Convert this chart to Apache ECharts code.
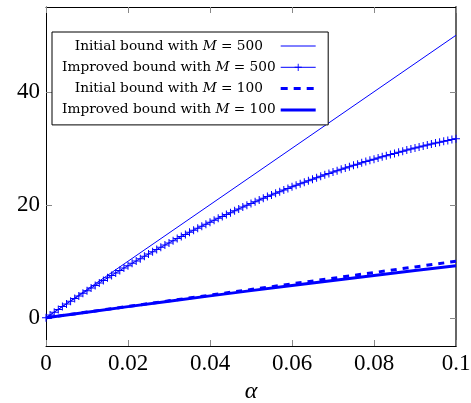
<!DOCTYPE html>
<html>
<head>
<meta charset="utf-8">
<script src="https://cdn.jsdelivr.net/npm/echarts@6/dist/echarts.min.js"></script>
<style>
  html, body { margin: 0; padding: 0; background: #fff; }
  #main { width: 471px; height: 403px; }
</style>
</head>
<body>
<div id="main"></div>
<script>
// alpha grid for the improved M=500 curve (marker every 0.001)
const alphaFine = [];
for (let k = 0; k <= 100; k++) alphaFine.push(k / 1000);

const improved500 = [
  0, 0.50, 0.99, 1.48, 1.97, 2.45, 2.93, 3.40, 3.87, 4.34,
  4.80, 5.26, 5.71, 6.17, 6.61, 7.06, 7.50, 7.93, 8.36, 8.79,
  9.21, 9.63, 10.05, 10.46, 10.87, 11.28, 11.68, 12.08, 12.47, 12.86,
  13.25, 13.63, 14.01, 14.38, 14.75, 15.12, 15.49, 15.85, 16.21, 16.56,
  16.91, 17.26, 17.60, 17.94, 18.27, 18.60, 18.93, 19.26, 19.58, 19.90,
  20.21, 20.52, 20.83, 21.14, 21.44, 21.73, 22.03, 22.32, 22.60, 22.89,
  23.17, 23.44, 23.72, 23.99, 24.25, 24.52, 24.78, 25.03, 25.29, 25.54,
  25.78, 26.03, 26.27, 26.50, 26.74, 26.97, 27.19, 27.42, 27.64, 27.86,
  28.07, 28.28, 28.49, 28.69, 28.90, 29.09, 29.29, 29.48, 29.67, 29.86,
  30.04, 30.22, 30.40, 30.57, 30.74, 30.91, 31.07, 31.23, 31.39, 31.55,
  31.70
];

const alphaCoarse = [0, 0.01, 0.02, 0.03, 0.04, 0.05, 0.06, 0.07, 0.08, 0.09, 0.1];
const initial500 = [0, 5, 10, 15, 20, 25, 30, 35, 40, 45, 50];
const initial100 = [0, 1, 2, 3, 4, 5, 6, 7, 8, 9, 10];
const improved100 = [0, 0.99, 1.97, 2.93, 3.87, 4.80, 5.71, 6.61, 7.49, 8.35, 9.20];

const yTicks = [0, 20, 40];
const seriesNames = [
  ['Initial bound with ', 'M', ' = 500'],
  ['Improved bound with ', 'M', ' = 500'],
  ['Initial bound with ', 'M', ' = 100'],
  ['Improved bound with ', 'M', ' = 100']
];

const zip = (xs, ys) => xs.map((x, i) => [x, ys[i]]);
const blue = '#0000ff';
const serif = "'Liberation Serif', 'Times New Roman', serif";
const legendFont = "'DejaVu Serif', serif";
const legendSize = 13.7;
const plus = 'path://M0,3.5h8v1h-8z M3.5,0h1v8h-1z';

// line looks for each series, shared by the plot and the legend icons
const lineWidths = [1, 1, 3, 3];
const legendDash = [null, null, [7, 6], null];

// measure legend lines so they can be centred (legend right-aligns text)
const ctx = document.createElement('canvas').getContext('2d');
const measure = (parts) => {
  ctx.font = legendSize + 'px ' + legendFont;
  let w = ctx.measureText(parts[0]).width + ctx.measureText(parts[2]).width;
  ctx.font = 'italic ' + legendSize + 'px ' + legendFont;
  return w + ctx.measureText(parts[1]).width;
};
const widths = seriesNames.map(measure);
const maxW = Math.max(...widths);
const rich = {
  a: { fontFamily: legendFont, fontSize: legendSize, color: '#000', lineHeight: 14 },
  m: { fontFamily: legendFont, fontStyle: 'italic', fontSize: legendSize, color: '#000', lineHeight: 14 }
};
widths.forEach((w, i) => { rich['p' + i] = { width: Math.max(0, (maxW - w) / 2), lineHeight: 14 }; });

const chart = echarts.init(document.getElementById('main'));

const tickStyle = { show: true, inside: true, length: 6, lineStyle: { color: '#888', width: 1 } };
const axisLineBlack = { show: true, onZero: false, lineStyle: { color: '#000', width: 1 } };

chart.setOption({
  animation: false,
  grid: { left: 46, right: 15, top: 7, bottom: 57, outerBoundsMode: 'none', containLabel: false },
  legend: {
    orient: 'vertical',
    left: 52,
    top: 32,
    align: 'right',
    padding: [7, 11, 8, 10],
    itemGap: 7.3,
    itemWidth: 35,
    itemHeight: 9,
    borderColor: '#000',
    borderWidth: 1,
    backgroundColor: '#fff',
    data: seriesNames.map((n, i) => {
      const item = {
        name: n.join(''),
        lineStyle: { width: lineWidths[i], color: blue }
      };
      if (legendDash[i]) item.lineStyle.type = legendDash[i];
      if (i !== 1) item.itemStyle = { opacity: 0 };
      return item;
    }),
    formatter: (name) => {
      const i = seriesNames.findIndex((n) => n.join('') === name);
      const p = seriesNames[i];
      return '{a|' + p[0] + '}{m|' + p[1] + '}{a|' + p[2] + '}{p' + i + '|}';
    },
    textStyle: { rich: rich }
  },
  xAxis: [
    {
      type: 'value', min: 0, max: 0.1, interval: 0.02,
      name: 'α', nameLocation: 'middle', nameGap: 20,
      nameTextStyle: { fontFamily: serif, fontStyle: 'italic', fontSize: 24, color: '#000' },
      axisLine: axisLineBlack, axisTick: tickStyle, splitLine: { show: false },
      axisLabel: { fontFamily: serif, fontSize: 23, color: '#000', margin: 6 }
    },
    {
      type: 'value', position: 'top', min: 0, max: 0.1, interval: 0.02,
      axisLine: axisLineBlack, axisTick: tickStyle, splitLine: { show: false },
      axisLabel: { show: false }
    }
  ],
  yAxis: [
    {
      type: 'value', min: -5, max: 55,
      axisLine: axisLineBlack,
      axisTick: Object.assign({ customValues: yTicks }, tickStyle),
      splitLine: { show: false },
      axisLabel: { customValues: yTicks, fontFamily: serif, fontSize: 23, color: '#000', margin: 6 }
    },
    {
      type: 'value', position: 'right', min: -5, max: 55,
      axisLine: { show: true, onZero: false, lineStyle: { color: '#666', width: 2 } },
      axisTick: Object.assign({ customValues: yTicks }, tickStyle),
      splitLine: { show: false },
      axisLabel: { show: false }
    }
  ],
  series: [
    {
      name: seriesNames[0].join(''), type: 'line', data: zip(alphaCoarse, initial500),
      symbol: 'none', lineStyle: { color: blue, width: lineWidths[0] }, itemStyle: { color: blue }
    },
    {
      name: seriesNames[1].join(''), type: 'line', data: zip(alphaFine, improved500),
      symbol: plus, symbolSize: 8, showAllSymbol: true,
      lineStyle: { color: blue, width: lineWidths[1] }, itemStyle: { color: blue }
    },
    {
      name: seriesNames[2].join(''), type: 'line', data: zip(alphaCoarse, initial100),
      symbol: 'none', lineStyle: { color: blue, width: lineWidths[2], type: [6, 6] }, itemStyle: { color: blue }
    },
    {
      name: seriesNames[3].join(''), type: 'line', data: zip(alphaCoarse, improved100),
      symbol: 'none', lineStyle: { color: blue, width: lineWidths[3] }, itemStyle: { color: blue }
    }
  ]
});
</script>
</body>
</html>
